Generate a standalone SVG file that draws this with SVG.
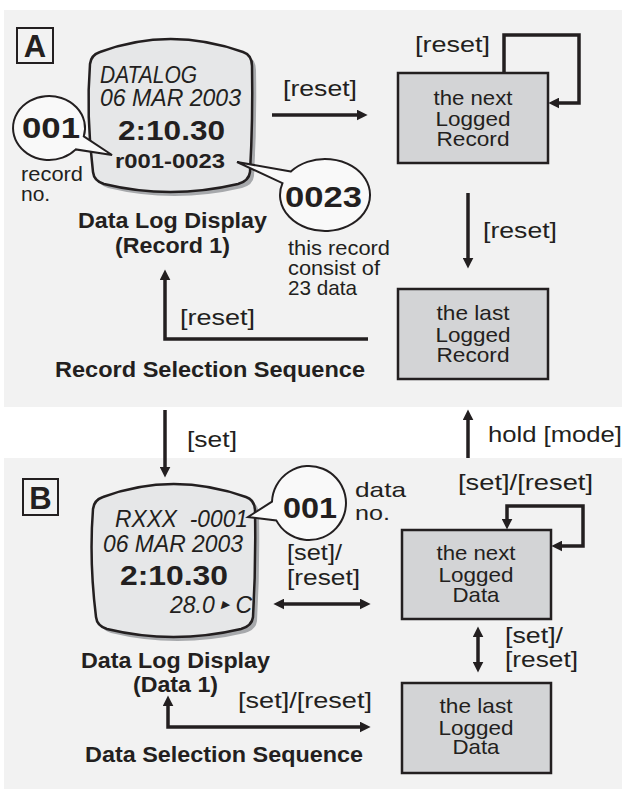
<svg xmlns="http://www.w3.org/2000/svg" xmlns:xlink="http://www.w3.org/1999/xlink" width="625" height="791" viewBox="0 0 625 791">
<style>
text{font-family:"Liberation Sans",Arial,sans-serif;fill:#231f20}
.t{font-size:22px}
.s{font-size:21px}
.x{font-size:21px}
.b{font-weight:bold}
.i{font-style:italic;font-size:23px}
.m{text-anchor:middle}
.panel{fill:#f2f2f2}
.box{fill:#d3d4d6;stroke:#231f20;stroke-width:2.5}
.lbl{fill:none;stroke:#231f20;stroke-width:2}
.disp{fill:#e6e7e8;stroke:#231f20;stroke-width:2.5}
.shadow{fill:#a7a9ac}
.call{fill:#f9f9f9;stroke:#231f20;stroke-width:2;stroke-linejoin:miter}
.c{fill:none;stroke:#231f20;stroke-width:3.5}
</style>
<defs>
<marker id="ah" markerUnits="userSpaceOnUse" markerWidth="11" markerHeight="11" refX="4" refY="5" orient="auto-start-reverse" viewBox="0 0 10 10">
<path d="M0,0 L10,5 L0,10 Z" fill="#231f20"/>
</marker>
<path id="dispShape" d="M100,52 Q170,26 243,52 Q252,55 252,66 Q253,120 250,172 Q249,181 238,184 Q170,200 104,184 Q94,181 93,172 Q86,115 90,64 Q91,55 100,52 Z"/>
</defs>

<rect class="panel" x="4" y="10" width="618" height="397"/>
<rect class="panel" x="4" y="458" width="618" height="331"/>

<g id="labelA">
<rect class="lbl" x="17" y="28" width="36" height="35"/>
<text class="b m" x="35" y="57" font-size="31">A</text>
</g>

<g id="displayA">
<use xlink:href="#dispShape" class="shadow" transform="translate(4,4)"/>
<use xlink:href="#dispShape" class="disp"/>
<text class="i" x="100" y="83" textLength="97" lengthAdjust="spacingAndGlyphs">DATALOG</text>
<text class="i" x="100" y="106" textLength="141" lengthAdjust="spacingAndGlyphs">06 MAR 2003</text>
<text class="b" x="118" y="140" font-size="28" textLength="107" lengthAdjust="spacingAndGlyphs">2:10.30</text>
<text class="b" x="115" y="168" font-size="20" textLength="110" lengthAdjust="spacingAndGlyphs">r001-0023</text>
<text class="t b" x="78" y="228" textLength="189" lengthAdjust="spacingAndGlyphs">Data Log Display</text>
<text class="t b" x="115" y="253" textLength="115" lengthAdjust="spacingAndGlyphs">(Record 1)</text>
</g>

<g id="callout001A">
<path class="call" d="M83.8,136.3 L112,155 L75.8,149.4 A36,32 0 1 1 83.8,136.3 Z"/>
<text class="b" x="22" y="138" font-size="30" textLength="58" lengthAdjust="spacingAndGlyphs">001</text>
<text class="s" x="21" y="181" textLength="62" lengthAdjust="spacingAndGlyphs">record</text>
<text class="s" x="21" y="201">no.</text>
</g>

<g id="callout0023">
<path class="call" d="M290.8,171.6 L237,162 L282.5,183.2 A45,36 0 1 0 290.8,171.6 Z"/>
<text class="b" x="285" y="207" font-size="30" textLength="77" lengthAdjust="spacingAndGlyphs">0023</text>
<text class="s" x="288" y="255" textLength="102" lengthAdjust="spacingAndGlyphs">this record</text>
<text class="s" x="288" y="275" textLength="92" lengthAdjust="spacingAndGlyphs">consist of</text>
<text class="s" x="288" y="295" textLength="69" lengthAdjust="spacingAndGlyphs">23 data</text>
</g>

<g id="nextRecord">
<rect class="box" x="398" y="73" width="150" height="90"/>
<text class="x m" x="473" y="105" textLength="79" lengthAdjust="spacingAndGlyphs">the next</text>
<text class="x m" x="473" y="126" textLength="75" lengthAdjust="spacingAndGlyphs">Logged</text>
<text class="x m" x="473" y="146" textLength="73" lengthAdjust="spacingAndGlyphs">Record</text>
</g>

<g id="lastRecord">
<rect class="box" x="398" y="289" width="150" height="90"/>
<text class="x m" x="473" y="320" textLength="73" lengthAdjust="spacingAndGlyphs">the last</text>
<text class="x m" x="473" y="342" textLength="75" lengthAdjust="spacingAndGlyphs">Logged</text>
<text class="x m" x="473" y="362" textLength="73" lengthAdjust="spacingAndGlyphs">Record</text>
</g>

<g id="titleA">
<text class="t b" x="55" y="377" textLength="310" lengthAdjust="spacingAndGlyphs">Record Selection Sequence</text>
</g>

<g id="labelB">
<rect class="lbl" x="23" y="479" width="35" height="36"/>
<text class="b m" x="40.5" y="509" font-size="31">B</text>
</g>

<g id="displayB">
<use xlink:href="#dispShape" class="shadow" transform="translate(7,449)"/>
<use xlink:href="#dispShape" class="disp" transform="translate(3,445)"/>
<text class="i" x="115" y="527" textLength="133" lengthAdjust="spacingAndGlyphs" xml:space="preserve">RXXX  -0001</text>
<text class="i" x="103" y="552" textLength="140" lengthAdjust="spacingAndGlyphs">06 MAR 2003</text>
<text class="b" x="120" y="585" font-size="28" textLength="108" lengthAdjust="spacingAndGlyphs">2:10.30</text>
<text class="i" x="170" y="613" font-size="21">28.0 <tspan font-size="11" dy="-5">▶</tspan><tspan dy="5"> C</tspan></text>
<text class="t b" x="81" y="668" textLength="189" lengthAdjust="spacingAndGlyphs">Data Log Display</text>
<text class="t b" x="133" y="692" textLength="85" lengthAdjust="spacingAndGlyphs">(Data 1)</text>
</g>

<g id="callout001B">
<path class="call" d="M272,501.7 L248,517 L276.3,520.4 A37,37 0 1 0 272,501.7 Z"/>
<text class="b" x="283" y="518" font-size="30" textLength="54" lengthAdjust="spacingAndGlyphs">001</text>
<text class="s" x="355" y="497" textLength="51" lengthAdjust="spacingAndGlyphs">data</text>
<text class="s" x="355" y="520" textLength="35" lengthAdjust="spacingAndGlyphs">no.</text>
</g>

<g id="nextData">
<rect class="box" x="402" y="530" width="149" height="89"/>
<text class="x m" x="476" y="560" textLength="79" lengthAdjust="spacingAndGlyphs">the next</text>
<text class="x m" x="476" y="582" textLength="75" lengthAdjust="spacingAndGlyphs">Logged</text>
<text class="x m" x="476" y="602" textLength="47" lengthAdjust="spacingAndGlyphs">Data</text>
</g>

<g id="lastData">
<rect class="box" x="402" y="683" width="149" height="90"/>
<text class="x m" x="476" y="713" textLength="73" lengthAdjust="spacingAndGlyphs">the last</text>
<text class="x m" x="476" y="735" textLength="75" lengthAdjust="spacingAndGlyphs">Logged</text>
<text class="x m" x="476" y="754" textLength="47" lengthAdjust="spacingAndGlyphs">Data</text>
</g>

<g id="titleB">
<text class="t b" x="85" y="762" textLength="278" lengthAdjust="spacingAndGlyphs">Data Selection Sequence</text>
</g>

<g id="connectors">
<path class="c" d="M272,115 H361" marker-end="url(#ah)"/>
<path class="c" d="M504,73 V35 H579 V103 H555" marker-end="url(#ah)"/>
<path class="c" d="M468,193 V262" marker-end="url(#ah)"/>
<path class="c" d="M368,339 H165 V276" marker-end="url(#ah)"/>
<path class="c" d="M165,410 V471" marker-end="url(#ah)"/>
<path class="c" d="M468,458 V416" marker-end="url(#ah)"/>
<path class="c" d="M280,604 H364" marker-start="url(#ah)" marker-end="url(#ah)"/>
<path class="c" d="M507,523 V506 H583 V546 H558" marker-start="url(#ah)" marker-end="url(#ah)"/>
<path class="c" d="M478,633 V666" marker-start="url(#ah)" marker-end="url(#ah)"/>
<path class="c" d="M364,727 H168 V702" marker-start="url(#ah)" marker-end="url(#ah)"/>
<text class="t" x="283" y="96" textLength="74" lengthAdjust="spacingAndGlyphs">[reset]</text>
<text class="t" x="415" y="52" textLength="75" lengthAdjust="spacingAndGlyphs">[reset]</text>
<text class="t" x="483" y="238" textLength="74" lengthAdjust="spacingAndGlyphs">[reset]</text>
<text class="t" x="180" y="325" textLength="75" lengthAdjust="spacingAndGlyphs">[reset]</text>
<text class="t" x="187" y="447" textLength="50" lengthAdjust="spacingAndGlyphs">[set]</text>
<text class="t" x="488" y="442" textLength="134" lengthAdjust="spacingAndGlyphs">hold [mode]</text>
<text class="t" x="287" y="560" textLength="55" lengthAdjust="spacingAndGlyphs">[set]/</text>
<text class="t" x="287" y="585" textLength="73" lengthAdjust="spacingAndGlyphs">[reset]</text>
<text class="t" x="458" y="490" textLength="135" lengthAdjust="spacingAndGlyphs">[set]/[reset]</text>
<text class="t" x="505" y="643" textLength="58" lengthAdjust="spacingAndGlyphs">[set]/</text>
<text class="t" x="505" y="667" textLength="73" lengthAdjust="spacingAndGlyphs">[reset]</text>
<text class="t" x="238" y="708" textLength="134" lengthAdjust="spacingAndGlyphs">[set]/[reset]</text>
</g>
</svg>
